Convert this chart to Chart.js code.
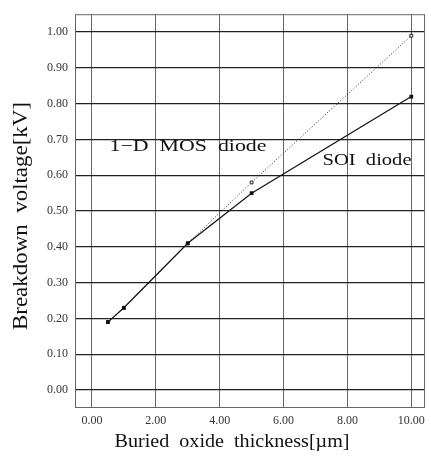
<!DOCTYPE html>
<html>
<head>
<meta charset="utf-8">
<script src="https://cdn.jsdelivr.net/npm/chart.js@4/dist/chart.umd.min.js"></script>
<style>
  html, body { margin: 0; padding: 0; background: #fff; }
  #wrap { width: 431px; height: 457px; }
</style>
</head>
<body>
<div id="wrap"><canvas id="bvChart"></canvas></div>
<script>
// thickness in um, breakdown voltage in kV
const thickness = [0.5, 1, 3, 5, 10];
const soiDiode = [0.19, 0.23, 0.41, 0.55, 0.82];
const mosDiode = [0.19, 0.23, 0.41, 0.58, 0.99];
const xTicks = [0, 2, 4, 6, 8, 10];
const yTicks = [0, 0.1, 0.2, 0.3, 0.4, 0.5, 0.6, 0.7, 0.8, 0.9, 1.0];

const serif = '"Liberation Serif", "DejaVu Serif", serif';

function toPoints(xs, ys) {
    return xs.map((x, i) => ({ x: x, y: ys[i] }));
}

// the scan's lettering is a bit wide, so squeeze/stretch text to a given width
function drawText(ctx, text, x, y, size, width, angle) {
    ctx.save();
    ctx.font = size + 'px ' + serif;
    const w = ctx.measureText(text).width;
    ctx.translate(x, y);
    ctx.rotate(angle || 0);
    ctx.scale(width / w, 1);
    ctx.textAlign = 'center';
    ctx.textBaseline = 'middle';
    ctx.fillText(text, 0, 0);
    ctx.restore();
}

// frame round the plot area, axis titles and curve labels
const framePlugin = {
    id: 'frame',
    afterDraw(chart) {
        const { ctx, chartArea: a } = chart;
        ctx.save();
        ctx.strokeStyle = '#666';
        ctx.lineWidth = 1;
        ctx.strokeRect(a.left + 0.5, a.top + 0.5, a.right - a.left - 1, a.bottom - a.top - 1);
        ctx.fillStyle = '#111';
        drawText(ctx, 'Buried  oxide  thickness[\u00b5m]', 232, 442, 19, 235);
        drawText(ctx, 'Breakdown  voltage[kV]', 22, 216, 20, 228, -Math.PI / 2);
        drawText(ctx, '1\u2212D  MOS  diode', 188, 147, 17, 157);
        drawText(ctx, 'SOI  diode', 367, 161, 17, 89);
        ctx.restore();
    }
};

function initChart() {
    const ctx = document.getElementById('bvChart').getContext('2d');
    return new Chart(ctx, {
        type: 'line',
        data: {
            datasets: [{
                label: 'SOI diode',
                data: toPoints(thickness, soiDiode),
                borderColor: '#111',
                backgroundColor: '#111',
                borderWidth: 1.2,
                pointRadius: 1.8,
                pointStyle: 'rect',
                tension: 0
            }, {
                label: '1-D MOS diode',
                data: toPoints(thickness, mosDiode),
                borderColor: '#222',
                backgroundColor: '#fff',
                borderWidth: 1,
                borderDash: [1, 2],
                pointRadius: 2,
                pointStyle: 'rect',
                pointBorderColor: '#222',
                tension: 0
            }]
        },
        options: {
            responsive: true,
            maintainAspectRatio: false,
            animation: false,
            layout: { padding: { top: 6, right: 4, left: 0, bottom: 0 } },
            plugins: {
                legend: { display: false },
                tooltip: { enabled: false }
            },
            scales: {
                x: {
                    type: 'linear',
                    min: -0.53,
                    max: 10.43,
                    afterBuildTicks: s => { s.ticks = xTicks.map(v => ({ value: v })); },
                    afterFit: s => { s.height = 49; },
                    grid: { color: '#666', lineWidth: 1, drawTicks: false },
                    border: { display: false },
                    ticks: {
                        padding: 6,
                        color: '#333',
                        font: { family: serif, size: 12 },
                        callback: v => v.toFixed(2)
                    }
                },
                y: {
                    min: -0.05,
                    max: 1.05,
                    afterBuildTicks: s => { s.ticks = yTicks.map(v => ({ value: v })); },
                    afterFit: s => { s.width = 75; },
                    grid: { color: '#222', lineWidth: 1.3, drawTicks: false },
                    border: { display: false },
                    ticks: {
                        padding: 7,
                        color: '#333',
                        font: { family: serif, size: 12 },
                        callback: v => v.toFixed(2)
                    }
                }
            }
        },
        plugins: [framePlugin]
    });
}

document.addEventListener('DOMContentLoaded', () => {
    initChart();
});
</script>
</body>
</html>
